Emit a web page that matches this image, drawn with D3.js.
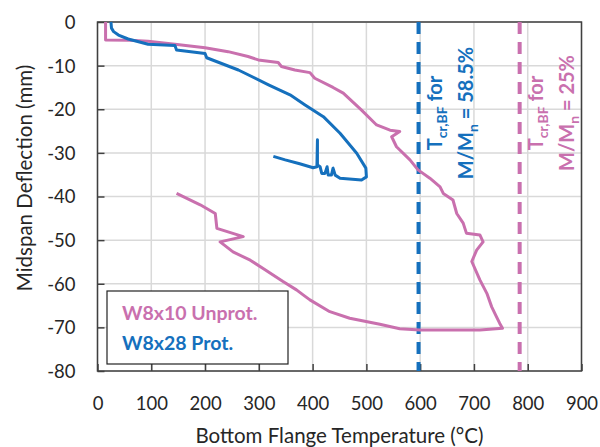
<!DOCTYPE html>
<html>
<head>
<meta charset="utf-8">
<script src="https://cdn.jsdelivr.net/npm/d3@7"></script>
<style>
  body { margin: 0; background: #fff; }
  svg { display: block; font-family: Lato, "Open Sans", sans-serif; }
</style>
</head>
<body>
<div id="chart"></div>
<script>
// W8x10 unprotected beam: bottom flange temperature (°C) vs midspan deflection (mm)
const unprotTemp = [15, 15, 60, 94, 144, 200, 243, 280, 299, 336, 342, 367, 395, 404, 438, 457, 491, 519, 544, 562, 547, 556, 581, 596, 618, 637, 643, 661, 668, 680, 686, 711, 717, 705, 696, 711, 724, 733, 742, 748, 753, 711, 600, 562, 525, 469, 432, 395, 383, 370, 345, 308, 284, 252, 228, 271, 222, 219, 191, 147];
const unprotDefl = [0, -4.1, -4.2, -4.4, -5.1, -5.9, -6.8, -7.9, -8.7, -9.3, -10.2, -11.0, -11.6, -12.9, -15.0, -16.3, -20.2, -23.6, -24.8, -25.1, -26.3, -28.6, -31.6, -33.9, -35.8, -37.8, -39.3, -40.8, -43.9, -46.1, -48.4, -48.8, -50.4, -52.3, -54.9, -59.1, -62.2, -65.3, -67.6, -69.1, -70.2, -70.6, -70.6, -70.3, -69.3, -67.9, -66.4, -63.7, -62.6, -61.4, -59.5, -56.5, -54.6, -52.7, -50.4, -49.2, -47.3, -43.9, -41.9, -39.3];

// W8x28 protected beam
const protTemp = [25, 26, 30, 39, 57, 94, 144, 147, 200, 203, 262, 318, 358, 386, 420, 451, 482, 499, 500, 491, 451, 442, 438, 435, 429, 427, 423, 417, 414, 409, 409, 408, 401, 376, 349, 327];
const protDefl = [0, -1.4, -2.2, -3.0, -3.9, -5.1, -5.4, -6.4, -7.2, -8.2, -11.0, -14.4, -16.7, -19.0, -21.7, -25.5, -30.1, -33.5, -35.5, -36.2, -35.8, -35.1, -33.5, -35.1, -35.1, -33.2, -34.7, -34.7, -33.2, -32.8, -27.0, -33.2, -33.4, -32.5, -31.6, -30.8];

// critical bottom flange temperatures
const critTemps = [597, 785];
const critLabels = ["58.5%", "25%"];

const xTicks = [0, 100, 200, 300, 400, 500, 600, 700, 800, 900];
const yTicks = [0, -10, -20, -30, -40, -50, -60, -70, -80];

const pink = "#c970ae",
    blue = "#1570bd";

const svg_w = 600,
    svg_h = 447;
const margin = { top: 22, right: 18.5, bottom: 76, left: 97.5 };
const width = svg_w - margin.left - margin.right,
    height = svg_h - margin.top - margin.bottom;

const svg = d3.select("#chart")
    .append("svg")
    .attr("width", svg_w)
    .attr("height", svg_h);

const g = svg.append("g")
    .attr("transform", "translate(" + margin.left + "," + margin.top + ")");

const x = d3.scaleLinear().domain([0, 900]).range([0, width]);
const y = d3.scaleLinear().domain([-80, 0]).range([height, 0]);

// grid
g.append("g").selectAll("line")
    .data(xTicks)
    .enter()
    .append("line")
    .attr("x1", d => x(d)).attr("x2", d => x(d))
    .attr("y1", 0).attr("y2", height)
    .attr("stroke", "#d9d9d9")
    .attr("stroke-width", 1.5);

g.append("g").selectAll("line")
    .data(yTicks)
    .enter()
    .append("line")
    .attr("x1", 0).attr("x2", width)
    .attr("y1", d => y(d)).attr("y2", d => y(d))
    .attr("stroke", "#d9d9d9")
    .attr("stroke-width", 1.5);

// frame
g.append("rect")
    .attr("width", width)
    .attr("height", height)
    .attr("fill", "none")
    .attr("stroke", "#404040")
    .attr("stroke-width", 1.5);

// axes, ticks pointing inward, plain hyphen minus like the original
const xAxis = d3.axisBottom(x).tickValues(xTicks).tickSize(-7).tickPadding(26)
    .tickFormat(d => String(d));
const yAxis = d3.axisLeft(y).tickValues(yTicks).tickSize(-7).tickPadding(22)
    .tickFormat(d => String(d));

const gx = g.append("g")
    .attr("transform", "translate(0," + height + ")")
    .call(xAxis);
const gy = g.append("g").call(yAxis);

[gx, gy].forEach(a => {
    a.select(".domain").remove();
    a.selectAll("line").attr("stroke", "#404040").attr("stroke-width", 1.5);
    a.selectAll("text")
        .attr("fill", "#262626")
        .style("font-size", "18.5px")
        .style("font-family", "Lato, sans-serif");
});
gy.selectAll("text").attr("dy", "0.35em");

// axis titles
svg.append("text")
    .attr("x", margin.left + width / 2)
    .attr("y", 443)
    .attr("text-anchor", "middle")
    .attr("fill", "#262626")
    .style("font-size", "20.5px")
    .text("Bottom Flange Temperature (°C)");

svg.append("text")
    .attr("transform", "translate(32,178) rotate(-90)")
    .attr("text-anchor", "middle")
    .attr("fill", "#262626")
    .style("font-size", "20.5px")
    .text("Midspan Deflection (mm)");

// critical temperature lines
const critColors = [blue, pink];
g.selectAll(".crit")
    .data(critTemps)
    .enter()
    .append("line")
    .attr("class", "crit")
    .attr("x1", d => x(d)).attr("x2", d => x(d))
    .attr("y1", 0).attr("y2", height)
    .attr("stroke", (d, i) => critColors[i])
    .attr("stroke-width", 4)
    .attr("stroke-dasharray", "12,8");

// curves
const line = d3.line()
    .x(d => x(d[0]))
    .y(d => y(d[1]));

g.append("path")
    .datum(d3.zip(unprotTemp, unprotDefl))
    .attr("d", line)
    .attr("fill", "none")
    .attr("stroke", pink)
    .attr("stroke-width", 3)
    .attr("stroke-linejoin", "round");

g.append("path")
    .datum(d3.zip(protTemp, protDefl))
    .attr("d", line)
    .attr("fill", "none")
    .attr("stroke", blue)
    .attr("stroke-width", 3)
    .attr("stroke-linejoin", "round");

// rotated annotations
critTemps.forEach((t, i) => {
    const ann = svg.append("g")
        .attr("fill", critColors[i])
        .style("font-weight", "bold")
        .style("font-size", "20px");

    const t1 = ann.append("text")
        .attr("transform", "translate(" + (margin.left + x(t) + 23) + ",113) rotate(-90)")
        .attr("text-anchor", "middle");
    t1.append("tspan").text("T");
    t1.append("tspan").attr("dy", 5).style("font-size", "14px").text("cr,BF");
    t1.append("tspan").attr("dy", -5).text(" for");

    const t2 = ann.append("text")
        .attr("transform", "translate(" + (margin.left + x(t) + 54) + ",113) rotate(-90)")
        .attr("text-anchor", "middle");
    t2.append("tspan").text("M/M");
    t2.append("tspan").attr("dy", 5).style("font-size", "14px").text("n");
    t2.append("tspan").attr("dy", -5).text(" = " + critLabels[i]);
});

// legend
const leg = svg.append("g");
leg.append("rect")
    .attr("x", 107).attr("y", 291)
    .attr("width", 181).attr("height", 73)
    .attr("fill", "#fff")
    .attr("stroke", "#222")
    .attr("stroke-width", 1.2);

leg.selectAll("text")
    .data([["W8x10 Unprot.", pink], ["W8x28 Prot.", blue]])
    .enter()
    .append("text")
    .attr("x", 122)
    .attr("y", (d, i) => 320 + i * 30)
    .attr("fill", d => d[1])
    .style("font-weight", "bold")
    .style("font-size", "19.5px")
    .text(d => d[0]);
</script>
</body>
</html>
